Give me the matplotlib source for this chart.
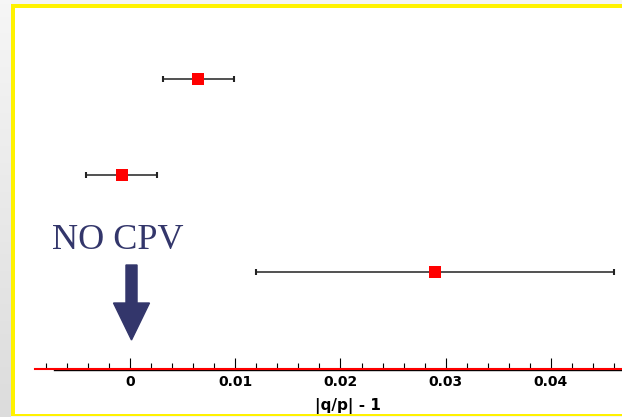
import numpy as np
import matplotlib
matplotlib.use("Agg")
import matplotlib.pyplot as plt
from matplotlib.patches import Rectangle, FancyArrow
from matplotlib.ticker import FixedLocator

# ---- data ----
values = [0.0065, -0.0008, 0.0290]        # |q/p| - 1
errors = [0.0034, 0.0034, 0.0170]
rows = [3, 2, 1]
major_ticks = [0, 0.01, 0.02, 0.03, 0.04]
major_labels = ["0", "0.01", "0.02", "0.03", "0.04"]
xlabel = "|q/p| - 1"
annotation = "NO CPV"

W, H = 622, 417
fig = plt.figure(figsize=(W / 100, H / 100), dpi=100)
fig.patch.set_facecolor("#f4f4f4")

def fx(px):
    return px / W

def fy(py):
    return 1 - py / H

# background panel
fig.patches.append(Rectangle((fx(11), fy(416)), fx(622) - fx(11), fy(4) - fy(416),
                             transform=fig.transFigure, facecolor="white", edgecolor="none", zorder=-3))
# left gray gradient strip
gax = fig.add_axes([0, 0, fx(11), 1])
grad = np.linspace(0, 1, 100).reshape(-1, 1)
gax.imshow(grad, aspect="auto", cmap=matplotlib.colors.LinearSegmentedColormap.from_list(
    "g", ["#f6f6f6", "#dcdcdc"]), extent=[0, 1, 1, 0])
gax.axis("off")
# yellow frame
yel = "#fff200"
for (x0, y0, x1, y1) in [(11, 4, 622, 8), (11, 4, 15, 416), (11, 414, 622, 416)]:
    fig.patches.append(Rectangle((fx(x0), fy(y1)), fx(x1) - fx(x0), fy(y0) - fy(y1),
                                 transform=fig.transFigure, facecolor=yel, edgecolor="none", zorder=-2))

# main axes
ax = fig.add_axes([fx(35), fy(368.5), 1 - fx(35), fy(0) - fy(368.5)])
ax.set_zorder(5)
ax.set_facecolor("none")
ax.set_xlim(-0.00903, 0.04675)
ax.set_ylim(0, 368.5 / 96.5)
for s in ax.spines.values():
    s.set_visible(False)
ax.set_yticks([])

ax.xaxis.set_major_locator(FixedLocator(major_ticks))
ax.set_xticklabels(major_labels)
ax.xaxis.set_minor_locator(FixedLocator(np.arange(-0.008, 0.0465, 0.002)))
ax.tick_params(axis="x", which="major", direction="in", length=8, width=0.8, color="black",
               pad=5, labelsize=10)
ax.tick_params(axis="x", which="minor", direction="in", length=4.3, width=0.8, color="black")
for lbl in ax.get_xticklabels():
    lbl.set_fontweight("bold")
    lbl.set_family("DejaVu Sans")

# axis lines
ax.plot([-0.0072, 0.04675], [-0.012, -0.012], color="black", lw=1.0, clip_on=False, zorder=3)
ax.axhline(0, color="#ff0000", lw=1.5, clip_on=False, zorder=4)

# data points
ax.errorbar(values, rows, xerr=errors, fmt="none", ecolor="#222222", elinewidth=1.1,
            capsize=2.5, capthick=1.5, zorder=5)
ax.plot(values, rows, "s", color="#ff0000", markersize=8, markeredgewidth=0, zorder=6)

# annotation
ax.text(-0.00114, (368.5 - 249) / 96.5, annotation, family="Liberation Serif", fontsize=26,
        color="#33366b", ha="center", va="baseline")
ax.add_patch(FancyArrow(0.00014, (368.5 - 265) / 96.5, 0, -(340 - 265) / 96.5,
                        width=0.00105, head_width=0.00342, head_length=37 / 96.5,
                        length_includes_head=True, color="#33366b", zorder=6))

fig.text(fx(348), fy(405.5), xlabel, ha="center", va="center", fontsize=11,
         fontweight="bold", family="DejaVu Sans")

fig.savefig("out.png", dpi=100, facecolor=fig.get_facecolor())
